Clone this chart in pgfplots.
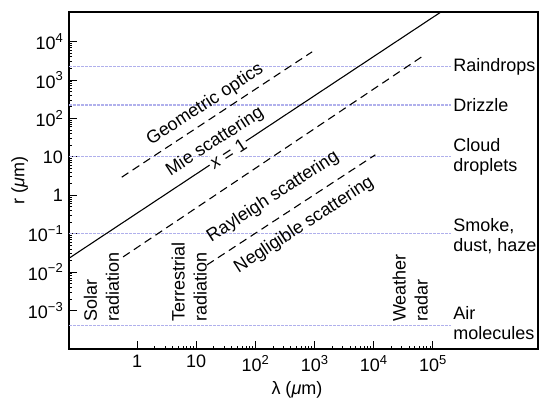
\documentclass[border=0pt]{standalone}
\usepackage{fontspec}
\setmainfont{Liberation Sans}
\usepackage{pgfplots}
\pgfplotsset{compat=1.18}
\definecolor{gridblue}{RGB}{176,176,236}
\newcommand{\sps}[1]{\raisebox{0.42em}{\fontsize{13}{13}\selectfont #1}}
\newcommand{\bigf}{\fontsize{18}{21}\selectfont}
\begin{document}
\bigf
\begin{tikzpicture}
\useasboundingbox (-69pt,-51pt) rectangle (470pt,349pt);
\begin{axis}[
  scale only axis, width=469pt, height=337pt,
  xmode=log, ymode=log,
  xmin=0.0708, xmax=6.03e6, ymin=1e-4, ymax=5.89e4,
  axis line style={line width=1.2pt},
  tick align=inside, tick pos=left,
  major tick length=8pt,
  every tick/.style={line width=1pt, black},
  minor xtick={}, minor ytick={},
  xtick={1,10,100,1000,10000,100000},
  xticklabels={1,10,10\sps{2},10\sps{3},10\sps{4},10\sps{5}},
  ytick={1e-3,1e-2,0.1,1,10,100,1000,1e4},
  yticklabels={10\sps{−3},10\sps{−2},10\sps{−1},1,10,10\sps{2},10\sps{3},10\sps{4}},
  ticklabel style={font=\bigf},
  xlabel={λ (\textit{μ}m)}, ylabel={r (\textit{μ}m)},
  label style={font=\bigf},
  xlabel style={at={(axis description cs:0.486,-0.122)}, anchor=center},
  ylabel style={at={(axis description cs:-0.105,0.5)}, anchor=center},
]
% size-class reference lines
\addplot[gridblue, line width=1.1pt, dash pattern=on 3pt off 1pt] coordinates {(0.0708,2240) (2.0e5,2240)};
\addplot[gridblue, line width=1.1pt, dash pattern=on 3pt off 1pt] coordinates {(0.0708,224) (2.0e5,224)};
\addplot[gridblue, line width=1.1pt, dash pattern=on 3pt off 1pt] coordinates {(0.0708,10) (2.0e5,10)};
\addplot[gridblue, line width=1.1pt, dash pattern=on 3pt off 1pt] coordinates {(0.0708,0.1) (2.0e5,0.1)};
\addplot[gridblue, line width=1.1pt, dash pattern=on 3pt off 1pt] coordinates {(0.0708,4.2e-4) (2.0e5,4.2e-4)};
% regime boundaries
\addplot[black, line width=1.1pt] coordinates {(0.0708,0.0230) (1.34e5,5.73e4)};
\addplot[black, line width=1.1pt, dash pattern=on 8pt off 5pt] coordinates {(0.552,2.96) (916,5420)};
\addplot[black, line width=1.1pt, dash pattern=on 8pt off 5pt] coordinates {(0.581,0.0249) (6.92e4,4266)};
\addplot[black, line width=1.1pt, dash pattern=on 8pt off 5pt] coordinates {(15.3,0.0155) (1.07e4,11.3)};
% diagonal labels
\node[rotate=33, font=\bigf] at (axis cs:14.2,226) {Geometric optics};
\node[rotate=33, font=\bigf] at (axis cs:20.9,24.6) {Mie scattering};
\node[rotate=33, font=\bigf, fill=white, inner sep=1.5pt] at (axis cs:34.7,12.0) {\textit{x} = 1};
\node[rotate=33, font=\bigf] at (axis cs:200,0.908) {Rayleigh scattering};
\node[rotate=33, font=\bigf] at (axis cs:670,0.169) {Negligible scattering};
% vertical labels
\node[rotate=90, anchor=west, align=left, inner sep=0pt, font=\fontsize{18}{22}\selectfont] at (axis cs:0.251,5.05e-4) {Solar\\radiation};
\node[rotate=90, anchor=west, align=left, inner sep=0pt, font=\fontsize{18}{22}\selectfont] at (axis cs:7.6,5.05e-4) {Terrestrial\\radiation};
\node[rotate=90, anchor=west, align=left, inner sep=0pt, font=\fontsize{18}{22}\selectfont] at (axis cs:4.17e4,5.05e-4) {Weather\\radar};
% right labels
\node[anchor=west, align=left, inner sep=0pt, font=\fontsize{18}{20}\selectfont] at (axis cs:2.22e5,2240) {Raindrops};
\node[anchor=west, align=left, inner sep=0pt, font=\fontsize{18}{20}\selectfont] at (axis cs:2.22e5,224) {Drizzle};
\node[anchor=west, align=left, inner sep=0pt, font=\fontsize{18}{20}\selectfont] at (axis cs:2.22e5,10) {Cloud\\droplets};
\node[anchor=west, align=left, inner sep=0pt, font=\fontsize{18}{20}\selectfont] at (axis cs:2.22e5,0.0877) {Smoke,\\dust, haze};
\node[anchor=west, align=left, inner sep=0pt, font=\fontsize{18}{20}\selectfont] at (axis cs:2.22e5,4.75e-4) {Air\\molecules};
\end{axis}
\end{tikzpicture}
\end{document}
